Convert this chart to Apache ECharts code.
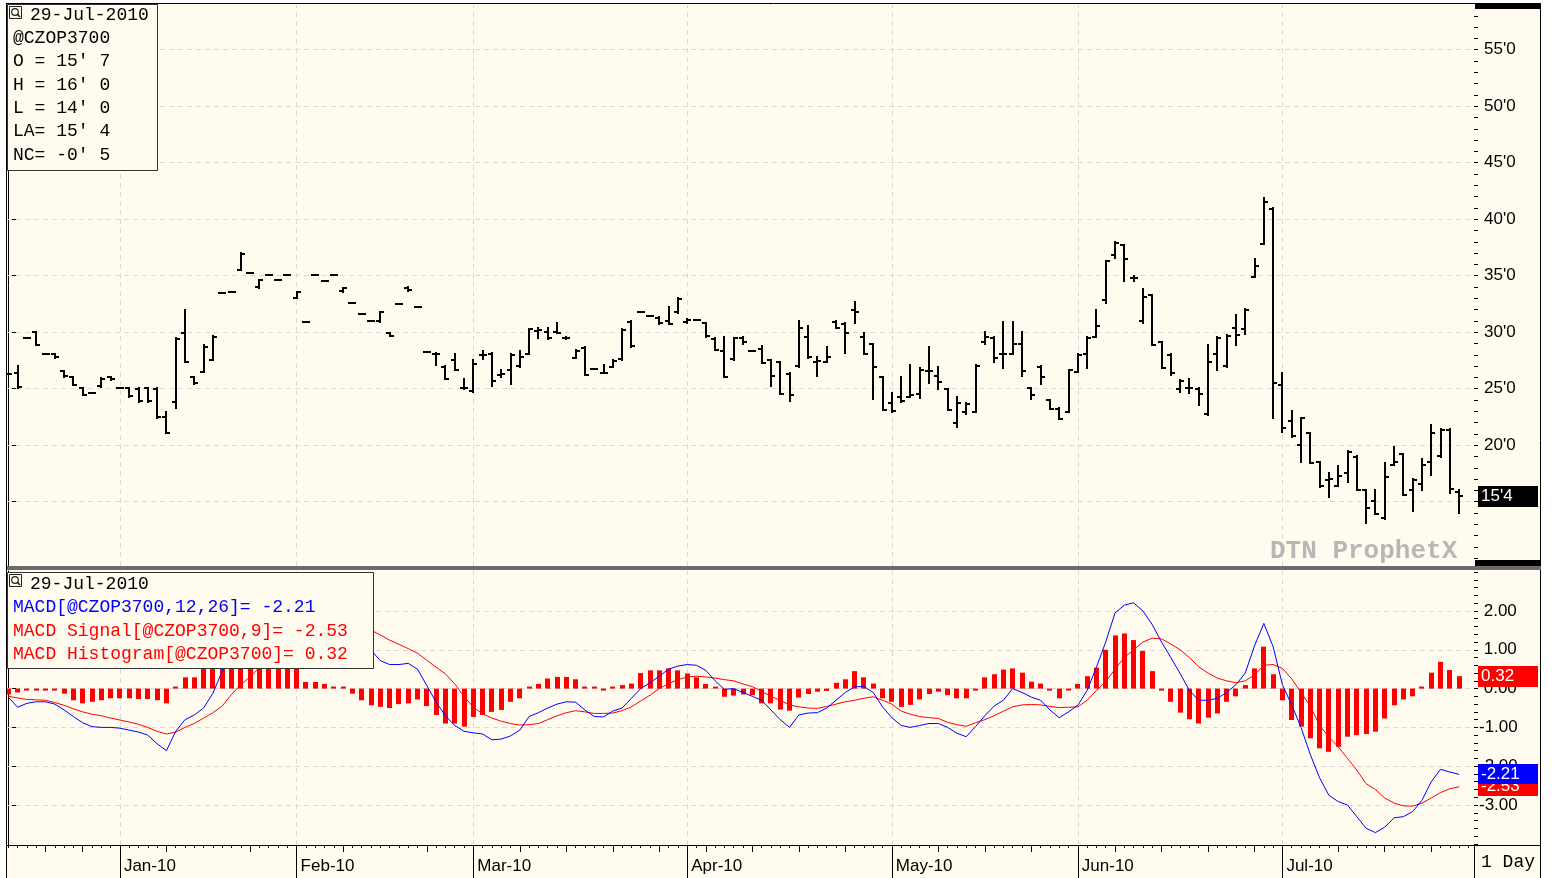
<!DOCTYPE html>
<html>
<head>
<meta charset="utf-8">
<title>@CZOP3700 daily bars with MACD</title>
<script src="https://cdn.jsdelivr.net/npm/echarts@6/dist/echarts.min.js"></script>
<style>
  html, body { margin: 0; padding: 0; background: #ffffff; }
  #chart { width: 1554px; height: 878px; }
</style>
</head>
<body>
<div id="chart"></div>
<script>
// ---------------- data ----------------
const symbol = '@CZOP3700';
const firstDay = '2009-12-15';
const lastDay = '2010-07-29';
const holidays = ['2009-12-25', '2010-01-01', '2010-01-18', '2010-02-15', '2010-05-31', '2010-07-05'];
const monthLabels = ['Jan-10', 'Feb-10', 'Mar-10', 'Apr-10', 'May-10', 'Jun-10', 'Jul-10'];

// daily prices in cents (fractions are eighths)
const opens = [
  26.3, 26.35, 29.45, 30.0, 28.05, 28.05, 26.55, 26.0, 25.05, 24.65,
  25.2, 26.0, 25.1, 25.05, 25.0, 25.05, 25.0, 22.5, 23.85, 29.9,
  26.0, 26.5, 27.55, 33.5, 33.6, 35.5, 35.25, 34.0, 35.1, 34.6,
  35.1, 33.05, 30.9, 35.1, 34.55, 35.1, 33.65, 32.6, 31.65, 31.0,
  30.95, 29.9, 32.5, 33.95, 32.2, 28.25, 28.1, 26.9, 27.5, 25.05,
  24.8, 27.95, 28.1, 26.2, 26.65, 27.0, 28.05, 30.15, 30.0, 30.0,
  29.5, 27.75, 28.6, 26.75, 26.4, 26.95, 27.6, 30.9, 31.8, 31.4,
  31.3, 31.0, 31.75, 30.9, 31.1, 30.8, 29.4, 28.3, 27.6, 29.5,
  28.35, 28.55, 27.5, 27.35, 26.3, 27.0, 29.6, 27.4, 27.4, 30.9,
  30.7, 32.0, 29.55, 29.0, 26.0, 23.7, 24.3, 24.3, 24.5, 26.6,
  26.1, 24.95, 22.0, 22.95, 22.95, 29.1, 29.45, 28.05, 28.05, 29.0,
  25.05, 26.95, 24.0, 23.2, 22.95, 26.5, 28.1, 29.55, 32.85, 36.8,
  37.7, 34.8, 31.0, 33.3, 29.1, 28.0, 25.0, 25.05, 25.0, 22.75,
  28.1, 27.0, 30.35, 30.25, 34.9, 37.8, 40.9, 25.3, 22.1, 20.0,
  21.1, 18.5, 16.95, 16.4, 17.5, 19.0, 16.0, 15.1, 13.55, 18.25,
  19.2, 16.05, 16.55, 18.55, 19.05, 21.35, 15.875
];
const highs = [
  26.3, 27.0, 29.45, 30.05, 28.05, 28.1, 26.6, 26.05, 25.1, 24.65,
  25.95, 26.05, 25.1, 25.1, 25.05, 25.1, 25.1, 22.95, 29.45, 32.0,
  26.05, 28.9, 29.65, 33.5, 33.6, 37.0, 35.25, 34.65, 35.1, 34.6,
  35.1, 33.6, 30.9, 35.1, 34.55, 35.1, 33.95, 32.6, 31.65, 31.0,
  31.8, 29.95, 32.5, 34.0, 32.2, 28.25, 28.15, 27.0, 28.05, 25.9,
  27.55, 28.3, 28.15, 26.65, 28.05, 28.35, 30.3, 30.4, 30.35, 30.85,
  29.6, 28.4, 28.65, 26.75, 27.1, 27.55, 30.3, 30.95, 31.8, 31.4,
  31.35, 32.2, 33.0, 31.15, 31.1, 30.85, 29.45, 29.55, 29.5, 29.6,
  28.35, 28.8, 27.55, 27.4, 26.35, 31.0, 30.55, 27.85, 28.7, 31.0,
  30.8, 32.65, 29.95, 29.0, 26.05, 24.6, 26.05, 27.1, 26.8, 28.65,
  26.9, 25.0, 24.3, 23.7, 27.1, 30.05, 29.55, 30.9, 30.9, 30.05,
  25.1, 27.0, 24.0, 23.25, 26.7, 28.05, 29.55, 31.95, 36.33, 38.0,
  37.7, 35.0, 33.85, 33.3, 29.15, 28.05, 25.75, 25.9, 25.1, 28.85,
  29.6, 29.75, 31.5, 32.05, 36.5, 41.9, 40.95, 26.4, 23.05, 22.45,
  21.1, 18.55, 17.5, 18.15, 19.45, 19.05, 16.05, 16.05, 18.4, 19.85,
  19.2, 17.0, 18.75, 21.8, 21.4, 21.4, 16.0
];
const lows = [
  26.3, 25.1, 29.45, 28.85, 28.05, 27.75, 26.05, 25.3, 24.4, 24.65,
  25.15, 25.8, 25.1, 24.3, 23.85, 23.85, 22.45, 21.05, 23.25, 27.4,
  25.45, 26.5, 27.55, 33.5, 33.6, 35.5, 35.25, 33.95, 35.1, 34.6,
  35.1, 33.0, 30.9, 35.1, 34.55, 35.1, 33.6, 32.6, 31.65, 31.0,
  30.9, 29.65, 32.5, 33.65, 32.2, 28.25, 27.1, 25.85, 26.65, 25.0,
  24.75, 27.65, 25.2, 26.0, 25.4, 26.95, 28.05, 29.45, 29.4, 29.95,
  29.4, 27.7, 26.2, 26.75, 26.35, 26.9, 27.55, 28.7, 31.8, 31.4,
  30.75, 30.7, 31.7, 30.85, 31.1, 29.6, 28.4, 26.0, 27.55, 29.0,
  28.35, 27.25, 25.2, 24.5, 23.95, 26.95, 27.75, 26.15, 27.35, 30.35,
  28.2, 30.8, 28.05, 24.05, 23.1, 22.95, 23.85, 24.3, 24.15, 25.55,
  24.95, 23.1, 21.65, 22.75, 22.95, 29.0, 27.4, 26.8, 28.05, 26.15,
  24.05, 25.4, 23.2, 22.3, 22.95, 26.5, 26.8, 29.55, 32.55, 36.55,
  34.5, 34.5, 30.8, 28.85, 26.8, 26.2, 24.75, 24.6, 23.6, 22.7,
  26.65, 26.95, 28.85, 29.85, 34.85, 37.8, 22.4, 21.2, 20.7, 18.55,
  18.4, 16.3, 15.45, 16.35, 16.75, 16.0, 13.1, 13.9, 13.5, 18.25,
  15.6, 14.2, 16.0, 17.35, 19.0, 15.75, 14.0
];
const closes = [
  26.3, 25.15, 29.45, 28.9, 28.05, 27.8, 26.1, 25.35, 24.45, 24.65,
  25.9, 25.85, 25.1, 24.35, 23.9, 23.9, 22.5, 21.1, 29.4, 27.4,
  25.5, 28.7, 29.6, 33.5, 33.6, 36.95, 35.25, 34.6, 35.1, 34.6,
  35.1, 33.55, 30.9, 35.1, 34.55, 35.1, 33.9, 32.6, 31.65, 31.0,
  31.75, 29.7, 32.5, 33.7, 32.2, 28.25, 28.1, 25.9, 26.7, 25.1,
  27.2, 28.0, 25.7, 26.3, 27.95, 27.85, 30.25, 30.2, 29.45, 29.95,
  29.45, 28.35, 26.25, 26.75, 26.4, 27.45, 30.2, 28.75, 31.8, 31.4,
  30.8, 30.75, 32.9, 31.1, 31.1, 29.65, 28.45, 26.05, 29.45, 29.1,
  28.35, 27.25, 26.15, 24.55, 24.4, 30.4, 27.8, 27.45, 27.8, 30.35,
  29.9, 31.8, 28.05, 26.9, 23.1, 23.0, 23.9, 24.45, 26.7, 26.6,
  25.6, 23.1, 23.75, 23.65, 27.0, 29.55, 27.7, 28.1, 29.0, 26.6,
  24.4, 26.05, 23.2, 22.3, 26.7, 28.0, 29.45, 30.55, 36.3, 37.9,
  36.45, 34.8, 33.1, 28.9, 26.8, 26.35, 25.7, 25.1, 24.5, 27.35,
  29.5, 29.7, 29.75, 32.0, 35.9, 41.55, 25.5, 21.5, 20.8, 22.4,
  18.45, 16.35, 17.0, 17.3, 19.4, 16.0, 14.4, 13.95, 17.15, 18.55,
  15.6, 16.9, 18.25, 21.1, 21.35, 16.125, 15.5
];

// MACD(12,26), signal(9) and histogram
const macd = [
  -0.22, -0.48, -0.38, -0.34, -0.34, -0.4, -0.55, -0.72, -0.88, -0.98,
  -1.0, -1.0, -1.02, -1.07, -1.12, -1.2, -1.42, -1.6, -1.1, -0.8,
  -0.68, -0.5, -0.12, 0.45, 0.9, 1.35, 1.6, 1.8, 1.95, 2.0,
  2.0, 1.85, 1.45, 1.5, 1.52, 1.45, 1.4, 1.25, 1.1, 0.99,
  0.72, 0.62, 0.62, 0.65, 0.5, 0.08, -0.35, -0.7, -0.95, -1.1,
  -1.14, -1.17, -1.32, -1.3, -1.22, -1.07, -0.72, -0.62, -0.5, -0.4,
  -0.34, -0.35, -0.55, -0.72, -0.73, -0.58, -0.5, -0.25, 0.0, 0.15,
  0.32, 0.5, 0.58, 0.62, 0.6, 0.47, 0.2, -0.02, 0.0, -0.1,
  -0.2, -0.3, -0.55, -0.8, -1.0, -0.68, -0.63, -0.62, -0.5, -0.3,
  -0.1, 0.05, 0.05, -0.1, -0.47, -0.75, -0.95, -1.0, -0.95, -0.9,
  -0.9, -1.0, -1.15, -1.24, -0.98, -0.7, -0.45, -0.3, 0.0, -0.1,
  -0.22, -0.3, -0.55, -0.75, -0.6, -0.43, -0.05, 0.55, 1.2, 1.95,
  2.15, 2.21, 2.0, 1.65, 1.2, 0.8, 0.39, -0.05, -0.3, -0.3,
  -0.25, -0.1, 0.1, 0.4, 1.1, 1.68, 1.08, 0.1, -0.42, -1.0,
  -1.7, -2.3, -2.75, -2.91, -3.0, -3.3, -3.6, -3.71, -3.57, -3.33,
  -3.3, -3.17, -2.88, -2.4, -2.08, -2.15, -2.21
];
const signal = [
  -0.2, -0.24, -0.28, -0.29, -0.3, -0.36, -0.43, -0.52, -0.6, -0.66,
  -0.7, -0.76, -0.81, -0.86, -0.92, -1.0, -1.1, -1.17, -1.12, -1.0,
  -0.9, -0.76, -0.62, -0.45, -0.15, 0.1, 0.3, 0.55, 0.8, 1.0,
  1.15, 1.25, 1.3, 1.35, 1.4, 1.43, 1.45, 1.5, 1.52, 1.51,
  1.38, 1.25, 1.14, 1.03, 0.91, 0.73, 0.55, 0.38, 0.12, -0.2,
  -0.48, -0.65, -0.76, -0.84, -0.9, -0.94, -0.93, -0.9, -0.8, -0.7,
  -0.62, -0.57, -0.6, -0.64, -0.64, -0.63, -0.57, -0.47, -0.32, -0.17,
  0.0, 0.13, 0.23, 0.3, 0.32, 0.3, 0.27, 0.23, 0.2, 0.12,
  0.05, -0.07, -0.2, -0.3, -0.42, -0.47, -0.5, -0.51, -0.46, -0.4,
  -0.34, -0.3, -0.25, -0.21, -0.3, -0.4, -0.58, -0.66, -0.72, -0.75,
  -0.77, -0.87, -0.93, -0.97, -0.88, -0.8, -0.7, -0.58, -0.47, -0.42,
  -0.41, -0.42, -0.46, -0.49, -0.48, -0.47, -0.3, -0.05, 0.18, 0.5,
  0.8, 1.0, 1.2, 1.3, 1.28, 1.15, 1.0, 0.8, 0.56, 0.4,
  0.27, 0.2, 0.15, 0.2, 0.35, 0.6, 0.62, 0.52, 0.25, -0.1,
  -0.45, -0.95, -1.25, -1.5, -1.8, -2.1, -2.45, -2.6, -2.82, -2.95,
  -3.02, -3.03, -2.95, -2.82, -2.68, -2.58, -2.53
];
const histogram = [
  -0.15, -0.1, -0.03, -0.03, -0.04, -0.05, -0.13, -0.3, -0.38, -0.34,
  -0.3, -0.25, -0.25, -0.25, -0.27, -0.27, -0.3, -0.38, 0.05, 0.29,
  0.29, 0.55, 0.85, 1.05, 1.2, 1.4, 1.4, 1.3, 1.2, 1.0,
  0.8, 0.6, 0.17, 0.17, 0.12, 0.02, 0.02, -0.13, -0.3, -0.43,
  -0.47, -0.5, -0.4, -0.38, -0.28, -0.45, -0.68, -0.9, -0.9, -0.98,
  -0.73, -0.68, -0.6, -0.55, -0.34, -0.25, 0.0, 0.12, 0.26, 0.3,
  0.3, 0.24, 0.02, 0.02, -0.05, 0.02, 0.09, 0.13, 0.4, 0.47,
  0.47, 0.52, 0.47, 0.39, 0.29, 0.12, 0.0, -0.21, -0.18, -0.15,
  -0.17, -0.38, -0.38, -0.54, -0.57, -0.23, -0.14, -0.08, -0.06, 0.15,
  0.24, 0.45, 0.29, 0.13, -0.25, -0.34, -0.47, -0.42, -0.28, -0.14,
  -0.08, -0.17, -0.25, -0.25, -0.02, 0.29, 0.37, 0.49, 0.52, 0.41,
  0.18, 0.13, -0.02, -0.25, -0.04, 0.12, 0.32, 0.54, 1.0, 1.37,
  1.42, 1.25, 0.97, 0.45, -0.01, -0.34, -0.62, -0.79, -0.9, -0.75,
  -0.64, -0.34, -0.2, 0.09, 0.52, 1.08, 0.37, -0.3, -0.81, -0.98,
  -1.28, -1.54, -1.63, -1.5, -1.24, -1.2, -1.17, -1.11, -0.77, -0.43,
  -0.28, -0.2, 0.04, 0.41, 0.69, 0.48, 0.32
];

// axis label values
const priceLabels = [15, 20, 25, 30, 35, 40, 45, 50, 55];
const macdLabels = [-3, -2, -1, 0, 1, 2];

// ---------------- trading calendar ----------------
function buildTradingDays(from, to, skip) {
  const out = [];
  const d = new Date(from + 'T00:00:00Z');
  const end = new Date(to + 'T00:00:00Z');
  while (d <= end) {
    const wd = d.getUTCDay();
    const iso = d.toISOString().slice(0, 10);
    if (wd !== 0 && wd !== 6 && skip.indexOf(iso) < 0) out.push(new Date(d));
    d.setUTCDate(d.getUTCDate() + 1);
  }
  return out;
}
const dates = buildTradingDays(firstDay, lastDay, holidays);
const last = dates.length - 1;

const monthStarts = [];
const mondays = [];
dates.forEach((d, i) => {
  if (i > 0 && d.getUTCMonth() !== dates[i - 1].getUTCMonth()) monthStarts.push(i);
  if (d.getUTCDay() === 1) mondays.push(i);
});
const monthLabelAt = {};
monthStarts.forEach((idx, k) => { monthLabelAt[idx] = monthLabels[k]; });
const dayTicks = [];
for (let i = 0; i <= dates.length; i++) dayTicks.push(i);

// ---------------- look ----------------
const BG = '#fffbef';
const GRID_COLOR = '#d9d9d9';
const MONO = '"Liberation Mono", "DejaVu Sans Mono", monospace';
const SANS = '"Liberation Sans", Arial, sans-serif';
const XMIN = -0.14, XMAX = 157.6;
const PRICE_MIN = 9.31, PRICE_MAX = 58.96;
const MACD_MIN = -4.03, MACD_MAX = 3.03;

function eighths(v, spaced) {
  const neg = v < 0;
  const a = Math.abs(v);
  let whole = Math.floor(a + 1e-9);
  let e = Math.round((a - whole) * 8);
  if (e === 8) { whole += 1; e = 0; }
  return (neg ? '-' : '') + whole + "'" + (spaced ? ' ' : '') + e;
}

const priceMinor = [];
for (let v = 10; v <= 58; v++) priceMinor.push(v);
const macdMinor = [];
for (let k = -20; k <= 15; k++) macdMinor.push(Math.round(k * 2) / 10);

const gridDash = { color: GRID_COLOR, width: 1, type: [5, 4] };
function gridLines(yValues) {
  return {
    silent: true, symbol: 'none', z: 1,
    label: { show: false },
    lineStyle: gridDash,
    emphasis: { disabled: true },
    data: yValues.map(v => ({ yAxis: v })).concat(monthStarts.map(i => ({ xAxis: i })))
  };
}

const hiddenX = gi => ({ type: 'value', gridIndex: gi, min: XMIN, max: XMAX, show: false });
const stripX = extra => Object.assign({
  type: 'value', gridIndex: 2, min: XMIN, max: XMAX, position: 'top',
  axisLine: { show: false, onZero: false },
  splitLine: { show: false },
  axisLabel: { show: false }
}, extra);

const chart = echarts.init(document.getElementById('chart'));

chart.setOption({
  animation: false,
  backgroundColor: BG,
  grid: [
    { left: 7, right: 80, top: 5, height: 561 },
    { left: 7, right: 80, top: 571, height: 274 },
    { left: 7, right: 80, top: 845, height: 33 }
  ],
  xAxis: [
    hiddenX(0),
    hiddenX(1),
    stripX({
      axisLine: { show: true, onZero: false, lineStyle: { color: '#000', width: 1 } },
      axisTick: { show: true, inside: true, length: 3, customValues: dayTicks, lineStyle: { color: '#000' } }
    }),
    stripX({
      axisTick: { show: true, inside: true, length: 7, customValues: mondays, lineStyle: { color: '#000' } }
    }),
    stripX({
      axisTick: { show: true, inside: true, length: 33, customValues: monthStarts, lineStyle: { color: '#000' } },
      axisLabel: {
        show: true, inside: true, customValues: monthStarts,
        formatter: v => monthLabelAt[v] || '',
        align: 'left', verticalAlign: 'middle', margin: 21, padding: [0, 0, 0, 4],
        fontFamily: SANS, fontSize: 17, color: '#000'
      }
    })
  ],
  yAxis: [
    {
      type: 'value', gridIndex: 0, min: PRICE_MIN, max: PRICE_MAX, position: 'right',
      axisLine: { show: true, lineStyle: { color: '#000' } },
      axisTick: { show: true, length: 8, customValues: priceLabels, lineStyle: { color: '#000' } },
      axisLabel: {
        customValues: priceLabels, formatter: v => v + "'0", margin: 10,
        fontFamily: SANS, fontSize: 17, color: '#000'
      },
      splitLine: { show: false }
    },
    {
      type: 'value', gridIndex: 0, min: PRICE_MIN, max: PRICE_MAX, position: 'right',
      axisLine: { show: false },
      axisTick: { show: true, length: 4, customValues: priceMinor, lineStyle: { color: '#000' } },
      axisLabel: { show: false }, splitLine: { show: false }
    },
    {
      type: 'value', gridIndex: 1, min: MACD_MIN, max: MACD_MAX, position: 'right',
      axisLine: { show: true, lineStyle: { color: '#000' } },
      axisTick: { show: true, length: 8, customValues: macdLabels, lineStyle: { color: '#000' } },
      axisLabel: {
        customValues: macdLabels, formatter: v => (v < 0 ? '' : ' ') + v.toFixed(2), margin: 5,
        fontFamily: SANS, fontSize: 17, color: '#000'
      },
      splitLine: { show: false }
    },
    {
      type: 'value', gridIndex: 1, min: MACD_MIN, max: MACD_MAX, position: 'right',
      axisLine: { show: false },
      axisTick: { show: true, length: 4, customValues: macdMinor, lineStyle: { color: '#000' } },
      axisLabel: { show: false }, splitLine: { show: false }
    },
    { type: 'value', gridIndex: 2, min: 0, max: 1, show: false }
  ],
  series: [
    {
      name: 'OHLC',
      type: 'custom',
      xAxisIndex: 0, yAxisIndex: 0,
      z: 3, silent: true, clip: true,
      encode: { x: 0, y: [1, 2, 3, 4] },
      data: dates.map((d, i) => [i, opens[i], highs[i], lows[i], closes[i]]),
      renderItem: function (params, api) {
        const x = api.value(0);
        const o = api.coord([x, api.value(1)]);
        const h = api.coord([x, api.value(2)]);
        const l = api.coord([x, api.value(3)]);
        const c = api.coord([x, api.value(4)]);
        const px = Math.round(o[0]);
        const st = { stroke: '#000', lineWidth: 2 };
        return {
          type: 'group',
          children: [
            { type: 'line', shape: { x1: px, y1: Math.round(h[1]) - 1, x2: px, y2: Math.round(l[1]) + 1 }, style: st },
            { type: 'line', shape: { x1: px - 4, y1: Math.round(o[1]), x2: px, y2: Math.round(o[1]) }, style: st },
            { type: 'line', shape: { x1: px, y1: Math.round(c[1]), x2: px + 4, y2: Math.round(c[1]) }, style: st }
          ]
        };
      },
      markLine: gridLines(priceLabels)
    },
    {
      name: 'MACD Histogram',
      type: 'custom',
      xAxisIndex: 1, yAxisIndex: 2,
      z: 2, silent: true, clip: true,
      encode: { x: 0, y: 1 },
      data: histogram.map((v, i) => [i, v]),
      renderItem: function (params, api) {
        const x = api.value(0), v = api.value(1);
        const p0 = api.coord([x, 0]);
        const p1 = api.coord([x, v]);
        let top = Math.min(p0[1], p1[1]);
        let hgt = Math.abs(p1[1] - p0[1]);
        if (hgt < 2) { hgt = 2; top = v >= 0 ? p0[1] - 2 : p0[1]; }
        return {
          type: 'rect',
          shape: { x: Math.round(p0[0] - 2.5), y: top, width: 5, height: hgt },
          style: { fill: '#ff0000' }
        };
      },
      markLine: gridLines(macdLabels)
    },
    {
      name: 'MACD Signal',
      type: 'line', xAxisIndex: 1, yAxisIndex: 2, z: 3, silent: true,
      symbol: 'none', lineStyle: { color: '#ff0000', width: 1 },
      data: signal.map((v, i) => [i, v])
    },
    {
      name: 'MACD',
      type: 'line', xAxisIndex: 1, yAxisIndex: 2, z: 4, silent: true,
      symbol: 'none', lineStyle: { color: '#0000ff', width: 1 },
      data: macd.map((v, i) => [i, v])
    }
  ]
});

// ---------------- frame, legends and value tags ----------------
const MON = ['Jan', 'Feb', 'Mar', 'Apr', 'May', 'Jun', 'Jul', 'Aug', 'Sep', 'Oct', 'Nov', 'Dec'];
const dl = dates[last];
const dateText = String(dl.getUTCDate()).padStart(2, '0') + '-' + MON[dl.getUTCMonth()] + '-' + dl.getUTCFullYear();

function txt(text, x, y, fill, font) {
  return { type: 'text', z: 101, silent: true,
    style: { text: text, x: x, y: y, fill: fill, font: font || ('18px ' + MONO), align: 'left', verticalAlign: 'middle' } };
}
function icon(x, y) {
  return [
    { type: 'rect', z: 101, silent: true, shape: { x: x + 0.5, y: y + 0.5, width: 12, height: 12 }, style: { fill: 'none', stroke: '#222', lineWidth: 1 } },
    { type: 'circle', z: 101, silent: true, shape: { cx: x + 6, cy: y + 6, r: 3.3 }, style: { fill: 'none', stroke: '#222', lineWidth: 1.2 } },
    { type: 'line', z: 101, silent: true, shape: { x1: x + 8.4, y1: y + 8.4, x2: x + 11, y2: y + 11 }, style: { stroke: '#222', lineWidth: 1.5 } }
  ];
}
function tag(text, yPix, fill, h) {
  return [
    { type: 'rect', z: 102, silent: true, shape: { x: 1478, y: Math.round(yPix - h / 2), width: 60, height: h }, style: { fill: fill } },
    txt(text, 1481, yPix, '#ffffff', '17px ' + SANS)
  ].map(e => Object.assign(e, { z: 102 }));
}

const yPrice = v => chart.convertToPixel({ yAxisIndex: 0 }, v);
const yMacd = v => chart.convertToPixel({ yAxisIndex: 2 }, v);
const nc = closes[last] - closes[last - 1];

const g = [];
// page edges outside the frame
g.push({ type: 'rect', z: 99, silent: true, shape: { x: 1541, y: 0, width: 13, height: 878 }, style: { fill: '#ffffff' } });
g.push({ type: 'rect', z: 99, silent: true, shape: { x: 0, y: 0, width: 1554, height: 3 }, style: { fill: '#ffffff' } });
g.push({ type: 'rect', z: 99, silent: true, shape: { x: 0, y: 0, width: 6, height: 878 }, style: { fill: '#ffffff' } });
// frame lines
g.push({ type: 'line', z: 100, silent: true, shape: { x1: 6.5, y1: 3, x2: 6.5, y2: 878 }, style: { stroke: '#000', lineWidth: 1 } });
g.push({ type: 'line', z: 100, silent: true, shape: { x1: 6, y1: 3.5, x2: 1541, y2: 3.5 }, style: { stroke: '#000', lineWidth: 1 } });
g.push({ type: 'line', z: 100, silent: true, shape: { x1: 1540.5, y1: 3, x2: 1540.5, y2: 878 }, style: { stroke: '#000', lineWidth: 1 } });
g.push({ type: 'line', z: 100, silent: true, shape: { x1: 1474.5, y1: 845, x2: 1474.5, y2: 878 }, style: { stroke: '#000', lineWidth: 1 } });
g.push({ type: 'line', z: 100, silent: true, shape: { x1: 1474, y1: 845.5, x2: 1541, y2: 845.5 }, style: { stroke: '#000', lineWidth: 1 } });
g.push({ type: 'rect', z: 100, silent: true, shape: { x: 7, y: 566, width: 1534, height: 4 }, style: { fill: '#6b6b6b' } });
g.push({ type: 'rect', z: 100, silent: true, shape: { x: 1475, y: 4, width: 66, height: 5 }, style: { fill: '#000' } });
g.push({ type: 'rect', z: 100, silent: true, shape: { x: 1475, y: 560, width: 66, height: 6 }, style: { fill: '#000' } });

// price legend
g.push({ type: 'rect', z: 100, silent: true, shape: { x: 7.5, y: 4.5, width: 150, height: 166 }, style: { fill: BG, stroke: '#333', lineWidth: 1 } });
icon(9, 6).forEach(e => g.push(e));
g.push(txt(dateText, 30, 15, '#000'));
g.push(txt(symbol, 13, 38, '#000'));
g.push(txt('O = ' + eighths(opens[last], true), 13, 61, '#000'));
g.push(txt('H = ' + eighths(highs[last], true), 13, 85, '#000'));
g.push(txt('L = ' + eighths(lows[last], true), 13, 108, '#000'));
g.push(txt('LA= ' + eighths(closes[last], true), 13, 131, '#000'));
g.push(txt('NC= ' + eighths(nc, true), 13, 155, '#000'));

// MACD legend
g.push({ type: 'rect', z: 100, silent: true, shape: { x: 7.5, y: 572.5, width: 366, height: 96 }, style: { fill: BG, stroke: '#333', lineWidth: 1 } });
icon(9, 574).forEach(e => g.push(e));
g.push(txt(dateText, 30, 584, '#000'));
g.push(txt('MACD[' + symbol + ',12,26]= ' + macd[last].toFixed(2), 13, 607, '#0000ff'));
g.push(txt('MACD Signal[' + symbol + ',9]= ' + signal[last].toFixed(2), 13, 631, '#ff0000'));
g.push(txt('MACD Histogram[' + symbol + ']= ' + histogram[last].toFixed(2), 13, 654, '#ff0000'));

// watermark and bar period
g.push(txt('DTN ProphetX', 1270, 551, '#b7b7b7', 'bold 26px ' + MONO));
g.push(txt('1 Day', 1481, 862, '#000', '18px ' + MONO));

// last value tags on the right axes
tag(eighths(closes[last], false), yPrice(closes[last]), '#000000', 21).forEach(e => g.push(e));
tag(histogram[last].toFixed(2), yMacd(histogram[last]), '#ff0000', 21).forEach(e => g.push(e));
tag(signal[last].toFixed(2), yMacd(signal[last]), '#ff0000', 18).forEach(e => g.push(e));
tag(macd[last].toFixed(2), yMacd(macd[last]), '#0000ff', 20).forEach(e => { e.z = 103; g.push(e); });

chart.setOption({ graphic: { elements: g } });
</script>
</body>
</html>
